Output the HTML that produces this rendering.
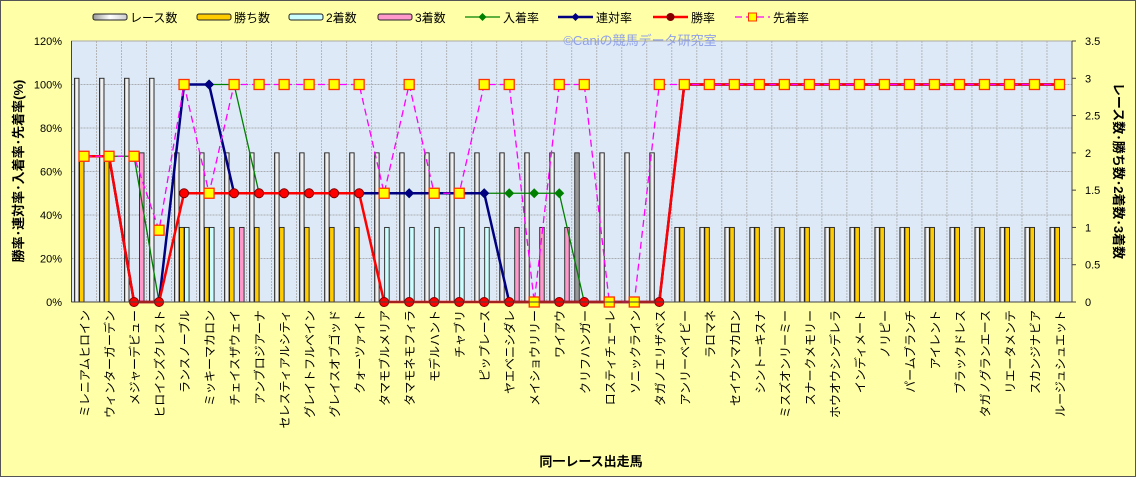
<!DOCTYPE html>
<html><head><meta charset="utf-8">
<style>
body{margin:0;padding:0;background:#fff}
svg{display:block;font-family:"Liberation Sans","Noto Sans CJK JP",sans-serif}
</style></head>
<body>
<svg id="chart" width="1136" height="477" viewBox="0 0 1136 477" xmlns="http://www.w3.org/2000/svg">
<defs>
<linearGradient id="gWhite" x1="0" x2="1" y1="0" y2="0"><stop offset="0" stop-color="#999"/><stop offset="0.5" stop-color="#fff"/><stop offset="1" stop-color="#ccc"/></linearGradient>
</defs>
<rect x="0.5" y="0.5" width="1135" height="476" fill="#ffffa8" stroke="#555"/>
<rect x="71.5" y="41" width="1000.5" height="261" fill="#dde9f7" stroke="#aaa"/>
<text x="640" y="45" font-size="13" fill="#8fa0e8" text-anchor="middle">©Caniの競馬データ研究室</text>
<g id="grid"></g>
<g id="bars"></g>
<g id="lines"></g>
<g id="axes"></g>
<g id="legend"></g>
<text x="591" y="466" font-size="13" font-weight="bold" text-anchor="middle">同一レース出走馬</text>
<text transform="translate(23,171) rotate(-90)" font-size="13" font-weight="bold" text-anchor="middle">勝率･連対率･入着率･先着率(%)</text>
<text transform="translate(1114,171) rotate(90)" font-size="13" font-weight="bold" text-anchor="middle">レース数･勝ち数･2着数･3着数</text>
</svg>
<script>
const categories=["ミレニアムヒロイン","ウィンターガーデン","メジャーデビュー","ヒロインズクレスト","ランスノーブル","ミッキーマカロン","チェイスザウェイ","アンブロジアーナ","セレスティアルシティ","グレイトフルベイン","グレイスオブゴッド","クォーツァイト","タマモブルメリア","タマモネモフィラ","モデルハント","チャブリ","ピップレース","ヤエベニシダレ","メイショウリリー","ワイアウ","クリフハンガー","ロスティチェーレ","ソニックライン","タガノエリザベス","アンリーベイビー","ラロマネ","セイウンマカロン","シントーキスナ","ミスズオンリーミー","スナークメモリー","ホウオウシンデレラ","インディメート","ノリピー","パームブランチ","アイレント","ブラックドレス","タガノグランエース","リエータメンテ","スカンジナビア","ルージュシュエット"];
const races=[3,3,3,3,2,2,2,2,2,2,2,2,2,2,2,2,2,2,2,2,2,2,2,2,1,1,1,1,1,1,1,1,1,1,1,1,1,1,1,1];
const wins=[2,2,0,0,1,1,1,1,1,1,1,1,0,0,0,0,0,0,0,0,0,0,0,0,1,1,1,1,1,1,1,1,1,1,1,1,1,1,1,1];
const seconds=[0,0,0,0,1,1,0,0,0,0,0,0,1,1,1,1,1,0,0,0,0,0,0,0,0,0,0,0,0,0,0,0,0,0,0,0,0,0,0,0];
const thirds=[0,0,2,0,0,0,1,0,0,0,0,0,0,0,0,0,0,1,1,1,0,0,0,0,0,0,0,0,0,0,0,0,0,0,0,0,0,0,0,0];
const placeRate=[67,67,67,0,100,100,100,50,50,50,50,50,50,50,50,50,50,50,50,50,0,0,0,0,100,100,100,100,100,100,100,100,100,100,100,100,100,100,100,100];
const rentaiRate=[67,67,0,0,100,100,50,50,50,50,50,50,50,50,50,50,50,0,0,0,0,0,0,0,100,100,100,100,100,100,100,100,100,100,100,100,100,100,100,100];
const winRate=[67,67,0,0,50,50,50,50,50,50,50,50,0,0,0,0,0,0,0,0,0,0,0,0,100,100,100,100,100,100,100,100,100,100,100,100,100,100,100,100];
const senRate=[67,67,67,33,100,50,100,100,100,100,100,100,50,100,50,50,100,100,0,100,100,0,0,100,100,100,100,100,100,100,100,100,100,100,100,100,100,100,100,100];
const leftTicks=["0%","20%","40%","60%","80%","100%","120%"];
const rightTicks=["0","0.5","1","1.5","2","2.5","3","3.5"];

const NS="http://www.w3.org/2000/svg";
const X0=71.5,X1=1072,Y0=302,Y1=41;
const cw=(X1-X0)/categories.length;
const yL=v=>Y0-(v/120)*(Y0-Y1);
const yR=v=>Y0-(v/3.5)*(Y0-Y1);
const xC=i=>X0+cw*(i+0.5);
function mk(tag,attrs,parent){const e=document.createElementNS(NS,tag);for(const k in attrs)e.setAttribute(k,attrs[k]);parent.appendChild(e);return e;}
const grid=document.getElementById('grid'),bars=document.getElementById('bars'),lines=document.getElementById('lines'),axes=document.getElementById('axes'),legend=document.getElementById('legend');

for(let i=1;i<leftTicks.length-1;i++){const y=yL(i*20);const l=mk('line',{x1:X0,x2:X1,y1:y,y2:y,stroke:'#999','stroke-dasharray':'2,1','stroke-width':0.8},grid);

}
for(let i=1;i<categories.length;i++){const x=X0+cw*i;const l=mk('line',{x1:x,x2:x,y1:Y1,y2:Y0,stroke:'#aaa','stroke-dasharray':'2,1','stroke-width':0.8},grid);

}

const series=[[races,'url(#gWhite)','race-count-bar'],[wins,'#ffcc00','win-count-bar'],[seconds,'#ccffff','second-count-bar'],[thirds,'#ff99cc','third-count-bar']];
categories.forEach((c,i)=>{
  series.forEach((s,j)=>{
    const v=s[0][i]; if(!v) return;
    const x=X0+cw*i+3+j*5;
    let fill=s[1]; if(j===0&&categories[i]==='クリフハンガー') fill='#999';
    const r=mk('rect',{x:x,y:yR(v),width:4.5,height:Y0-yR(v),fill:fill,stroke:'#222','stroke-width':0.9},bars);
    
    
  });
});

function polyline(data,color,w,dash,name){
  const pts=data.map((v,i)=>xC(i)+','+yL(v)).join(' ');
  const p=mk('polyline',{points:pts,fill:'none',stroke:color,'stroke-width':w},lines);
  if(dash)p.setAttribute('stroke-dasharray',dash);
  
  
}
polyline(placeRate,'#008000',1.3,null,'place-rate-line');
placeRate.forEach((v,i)=>{const d=mk('path',{d:`M${xC(i)-5},${yL(v)} L${xC(i)},${yL(v)-5} L${xC(i)+5},${yL(v)} L${xC(i)},${yL(v)+5}Z`,fill:'#008000'},lines);

});
polyline(rentaiRate,'#000080',2.5,null,'rentai-rate-line');
rentaiRate.forEach((v,i)=>{const d=mk('path',{d:`M${xC(i)-5},${yL(v)} L${xC(i)},${yL(v)-5} L${xC(i)+5},${yL(v)} L${xC(i)},${yL(v)+5}Z`,fill:'#000080'},lines);

});
polyline(winRate,'#ff0000',2.5,null,'win-rate-line');
winRate.forEach((v,i)=>{const c=mk('circle',{cx:xC(i),cy:yL(v),r:4.5,fill:'#ff0000',stroke:'#800000','stroke-width':1},lines);

});
polyline(senRate,'#ff00ff',1.3,'7,4','senchaku-rate-line');
senRate.forEach((v,i)=>{const r=mk('rect',{x:xC(i)-5,y:yL(v)-5,width:10,height:10,fill:'#ffff00',stroke:'#ff3300','stroke-width':1.3},lines);

});

mk('line',{x1:X0,x2:X0,y1:Y1,y2:Y0,stroke:'#444'},axes);
mk('line',{x1:X1,x2:X1,y1:Y1,y2:Y0,stroke:'#444'},axes);
mk('line',{x1:X0,x2:X1,y1:Y0,y2:Y0,stroke:'#444'},axes);
leftTicks.forEach((t,i)=>{const y=yL(i*20);
  const tx=mk('text',{x:62,y:y+4,'font-size':11,'text-anchor':'end'},axes);tx.textContent=t;
  
  });
rightTicks.forEach((t,i)=>{const y=yR(i*0.5);
  mk('line',{x1:X1,x2:X1+4,y1:y,y2:y,stroke:'#444'},axes);
  const tx=mk('text',{x:1085,y:y+4,'font-size':11},axes);tx.textContent=t;
  
  });
categories.forEach((c,i)=>{
  const tx=mk('text',{transform:`translate(${xC(i)+5},310) rotate(-90)`,'font-size':12,'text-anchor':'end'},axes);
  tx.textContent=c;
  
  
});

const legItems=[
 ['bar','url(#gWhite)','レース数',93,'legend-race-count'],
 ['bar','#ffcc00','勝ち数',197,'legend-win-count'],
 ['bar','#ccffff','2着数',289,'legend-second-count'],
 ['bar','#ff99cc','3着数',378,'legend-third-count'],
 ['dia','#008000','入着率',465,'legend-place-rate'],
 ['dia','#000080','連対率',558,'legend-rentai-rate'],
 ['circ','#ff0000','勝率',653,'legend-win-rate'],
 ['sq','#ff00ff','先着率',735,'legend-senchaku-rate']];
legItems.forEach(it=>{
  const g=mk('g',{},legend);
  
  
  const x=it[3],y=17;
  if(it[0]==='bar'){mk('rect',{x:x,y:y-3,width:34,height:6,rx:2,fill:it[1],stroke:'#222'},g);}
  else{
    const lw=it[0]==='dia'&&it[1]==='#008000'?1.3:2.5;
    mk('line',{x1:x,x2:x+35,y1:y,y2:y,stroke:it[1],'stroke-width':it[0]==='sq'?1.3:lw,'stroke-dasharray':it[0]==='sq'?'7,4':'none'},g);
    const cx=x+17.5;
    if(it[0]==='dia')mk('path',{d:`M${cx-4},${y} L${cx},${y-4} L${cx+4},${y} L${cx},${y+4}Z`,fill:it[1]},g);
    if(it[0]==='circ')mk('circle',{cx:cx,cy:y,r:4,fill:'#800000'},g);
    if(it[0]==='sq')mk('rect',{x:cx-4,y:y-4,width:8,height:8,fill:'#ffff00',stroke:'#ff3300'},g);
  }
  const t=mk('text',{x:x+(it[0]==='bar'?37:38),y:y+5,'font-size':12},g);t.textContent=it[2];
});
</script>
</body></html>
